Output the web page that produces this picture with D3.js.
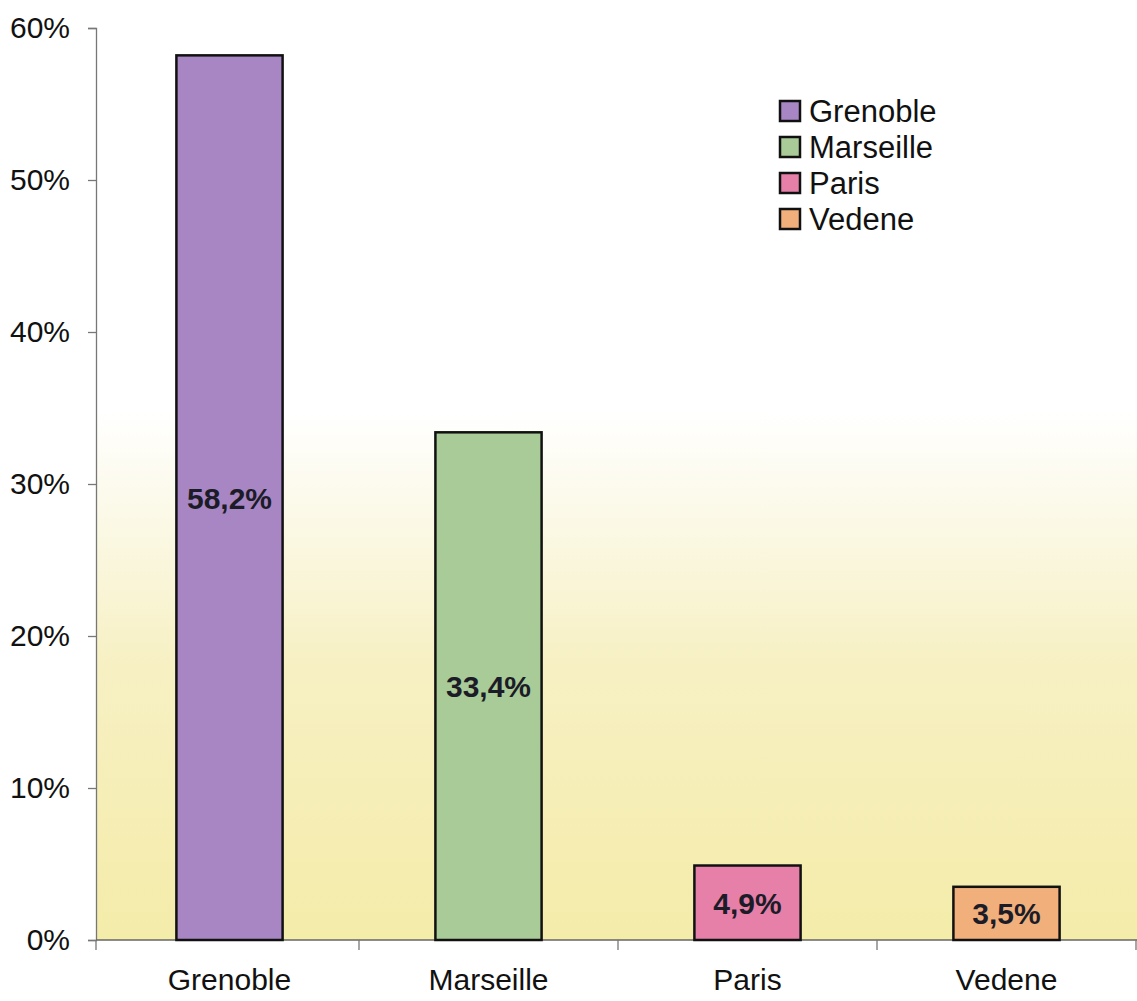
<!DOCTYPE html>
<html>
<head>
<meta charset="utf-8">
<script src="https://cdn.jsdelivr.net/npm/d3@7"></script>
<style>
  body { margin: 0; background: #fff; }
  text { font-family: "Liberation Sans", Arial, sans-serif; }
</style>
</head>
<body>
<script>
var Chart = {
  width : 1137,
  height : 1001
};

// data
var cities = ["Grenoble", "Marseille", "Paris", "Vedene"];
var shares = [58.2, 33.4, 4.9, 3.5];
var labels = ["58,2%", "33,4%", "4,9%", "3,5%"];
var yTicks = [0, 10, 20, 30, 40, 50, 60];
var colors = ["#a886c4", "#a9cb97", "#e680a8", "#f1b07b"];

var margin = {left : 96, top : 28, bottom : 940};

var svg = d3.select('body').append('svg')
  .attr('width', Chart.width)
  .attr('height', Chart.height);

var x = d3.scaleBand()
  .domain(cities)
  .range([100, 1136])
  .paddingInner(0.59)
  .paddingOuter(0.295);

var y = d3.scaleLinear()
  .domain([0, 60])
  .range([margin.bottom, margin.top]);

// background wash, white on top going to pale yellow
var grad = svg.append('defs').append('linearGradient')
  .attr('id', 'bg')
  .attr('x1', 0).attr('y1', 0).attr('x2', 0).attr('y2', 1);
grad.append('stop').attr('offset', '0').attr('stop-color', '#ffffff');
grad.append('stop').attr('offset', '0.42').attr('stop-color', '#ffffff');
grad.append('stop').attr('offset', '0.55').attr('stop-color', '#fbf8e4');
grad.append('stop').attr('offset', '0.7').attr('stop-color', '#f7f0c3');
grad.append('stop').attr('offset', '1').attr('stop-color', '#f4eca9');

svg.append('rect')
  .attr('x', margin.left)
  .attr('y', margin.top)
  .attr('width', Chart.width - margin.left)
  .attr('height', margin.bottom - margin.top)
  .attr('fill', 'url(#bg)');

// y axis
var yAxis = svg.append('g')
  .attr('transform', 'translate(' + margin.left + ',0)')
  .call(d3.axisLeft(y).tickValues(yTicks).tickSize(8).tickPadding(18)
    .tickFormat(function(d){ return d + '%'; }));
yAxis.select('.domain').attr('stroke', '#777').attr('stroke-width', 1.3);
yAxis.selectAll('.tick line').attr('stroke', '#777').attr('stroke-width', 1.3);
yAxis.selectAll('.tick text')
  .attr('font-size', 30)
  .attr('fill', '#111')
  .style('font-family', '"Liberation Sans", Arial, sans-serif');

// x axis: ticks sit between the categories
var step = x.step();
var xBounds = cities.map(function(d){ return x(d) - x.paddingInner() * step / 2; });
xBounds[0] = margin.left;
xBounds.push(x(cities[3]) + x.bandwidth() + x.paddingInner() * step / 2);

svg.append('line')
  .attr('x1', margin.left).attr('x2', Chart.width)
  .attr('y1', y(0)).attr('y2', y(0))
  .attr('stroke', '#666').attr('stroke-width', 1.3);

svg.selectAll('.xtick')
  .data(xBounds)
  .enter().append('line')
  .attr('class', 'xtick')
  .attr('x1', function(d){ return d; })
  .attr('x2', function(d){ return d; })
  .attr('y1', y(0)).attr('y2', y(0) + 10)
  .attr('stroke', '#777').attr('stroke-width', 1.3);

svg.selectAll('.xlab')
  .data(cities)
  .enter().append('text')
  .attr('class', 'xlab')
  .attr('x', function(d){ return x(d) + x.bandwidth() / 2; })
  .attr('y', 990)
  .attr('text-anchor', 'middle')
  .attr('font-size', 30)
  .attr('fill', '#111')
  .text(function(d){ return d; });

// bars
svg.selectAll('.bar')
  .data(cities)
  .enter().append('rect')
  .attr('class', 'bar')
  .attr('x', function(d){ return x(d); })
  .attr('y', function(d, i){ return y(shares[i]); })
  .attr('width', x.bandwidth())
  .attr('height', function(d, i){ return y(0) - y(shares[i]); })
  .attr('fill', function(d, i){ return colors[i]; })
  .attr('stroke', '#111')
  .attr('stroke-width', 2.5);

// value labels in the middle of each bar
svg.selectAll('.val')
  .data(cities)
  .enter().append('text')
  .attr('class', 'val')
  .attr('x', function(d){ return x(d) + x.bandwidth() / 2; })
  .attr('y', function(d, i){ return (y(shares[i]) + y(0)) / 2 + 11; })
  .attr('text-anchor', 'middle')
  .attr('font-size', 30)
  .attr('font-weight', 'bold')
  .attr('fill', '#1c1c28')
  .text(function(d, i){ return labels[i]; });

// legend
var legend = svg.append('g').attr('transform', 'translate(780,101)');
var row = legend.selectAll('g')
  .data(cities)
  .enter().append('g')
  .attr('transform', function(d, i){ return 'translate(0,' + (i * 36) + ')'; });
row.append('rect')
  .attr('width', 20).attr('height', 20)
  .attr('fill', function(d, i){ return colors[i]; })
  .attr('stroke', '#111').attr('stroke-width', 2.5);
row.append('text')
  .attr('x', 29).attr('y', 21)
  .attr('font-size', 31)
  .attr('fill', '#111')
  .text(function(d){ return d; });
</script>
</body>
</html>
